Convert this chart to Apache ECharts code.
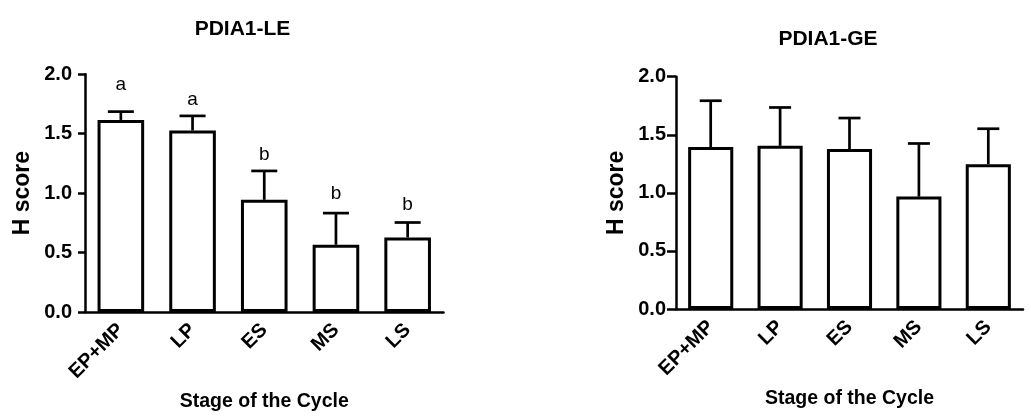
<!DOCTYPE html>
<html>
<head>
<meta charset="utf-8">
<script src="https://cdn.jsdelivr.net/npm/echarts@6/dist/echarts.min.js"></script>
<style>
html,body{margin:0;padding:0;background:#fff;}
#c{width:1031px;height:417px;}
</style>
</head>
<body>
<div id="c"></div>
<script>
const categories = ['EP+MP', 'LP', 'ES', 'MS', 'LS'];
const yTicks = [0, 0.5, 1.0, 1.5, 2.0];
const leMean = [1.616, 1.527, 0.944, 0.566, 0.627];
const leErr = [0.070, 0.123, 0.243, 0.266, 0.126];
const leLetters = ['a', 'a', 'b', 'b', 'b'];
const leLetterY = [1.862, 1.742, 1.280, 0.952, 0.860];
const geMean = [1.394, 1.405, 1.377, 0.968, 1.247];
const geErr = [0.399, 0.330, 0.267, 0.457, 0.305];

const FONT = "'Liberation Sans', Arial, sans-serif";
const chart = echarts.init(document.getElementById('c'));

function xAxisCfg(gi) {
  return {
    type: 'category', gridIndex: gi, data: categories,
    name: 'Stage of the Cycle', nameLocation: 'middle', nameGap: 80,
    nameTextStyle: {fontFamily: FONT, fontWeight: 'bold', fontSize: 19.5, color: '#000'},
    axisLine: {lineStyle: {color: '#000', width: 2.5}},
    axisTick: {alignWithLabel: true, length: 6, lineStyle: {color: '#000', width: 2.5}},
    axisLabel: {rotate: 45, margin: 15, fontFamily: FONT, fontWeight: 'bold', fontSize: 20, color: '#000', interval: 0}
  };
}
function yAxisCfg(gi, gap, margin, tick) {
  return {
    type: 'value', gridIndex: gi, min: yTicks[0], max: yTicks[yTicks.length - 1], interval: 0.5,
    name: 'H score', nameLocation: 'middle', nameGap: gap, nameRotate: 90,
    nameTextStyle: {fontFamily: FONT, fontWeight: 'bold', fontSize: 23, color: '#000'},
    axisLine: {show: true, lineStyle: {color: '#000', width: 2.5}},
    axisTick: {show: true, length: tick, lineStyle: {color: '#000', width: 2.5}},
    splitLine: {show: false},
    axisLabel: {margin: margin, fontFamily: FONT, fontWeight: 'bold', fontSize: 20, color: '#000',
      formatter: v => v.toFixed(1)}
  };
}
function barSeries(gi, vals) {
  return {
    type: 'bar', xAxisIndex: gi, yAxisIndex: gi, data: vals, barWidth: '65%',
    itemStyle: {color: '#fff', borderColor: '#000', borderWidth: 3},
    silent: true, z: 2
  };
}
function errSeries(gi, mean, err, capHalf, letters, letterY) {
  const data = mean.map((m, i) => [i, m, m + err[i]]);
  return {
    type: 'custom', xAxisIndex: gi, yAxisIndex: gi, data: data, z: 3, silent: true,
    renderItem: function (params, api) {
      const i = api.value(0);
      const p0 = api.coord([i, api.value(1)]);
      const p1 = api.coord([i, api.value(2)]);
      const style = {stroke: '#000', lineWidth: 2.7};
      const children = [
        {type: 'line', shape: {x1: p0[0], y1: p0[1], x2: p1[0], y2: p1[1]}, style: style},
        {type: 'line', shape: {x1: p1[0] - capHalf, y1: p1[1], x2: p1[0] + capHalf, y2: p1[1]}, style: style}
      ];
      if (letters) {
        const pl = api.coord([i, letterY[params.dataIndex]]);
        children.push({type: 'text', x: pl[0], y: pl[1] + 4,
          style: {text: letters[params.dataIndex], fill: '#000', font: '19px ' + FONT,
            textAlign: 'center', textVerticalAlign: 'bottom'}});
      }
      return {type: 'group', children: children};
    }
  };
}

chart.setOption({
  animation: false,
  backgroundColor: '#fff',
  graphic: [
    {type: 'text', x: 242.5, y: 29, style: {text: 'PDIA1-LE', font: 'bold 21px ' + FONT, fill: '#000', textAlign: 'center', textVerticalAlign: 'middle'}},
    {type: 'text', x: 828, y: 39, style: {text: 'PDIA1-GE', font: 'bold 21px ' + FONT, fill: '#000', textAlign: 'center', textVerticalAlign: 'middle'}}
  ],
  grid: [
    {left: 85, top: 74.3, width: 358.5, height: 238},
    {left: 676, top: 76.7, width: 347, height: 232.3}
  ],
  xAxis: [xAxisCfg(0), xAxisCfg(1)],
  yAxis: [yAxisCfg(0, 50.5, 13, 7), yAxisCfg(1, 48, 10, 9)],
  series: [
    barSeries(0, leMean),
    errSeries(0, leMean, leErr, 13, leLetters, leLetterY),
    barSeries(1, geMean),
    errSeries(1, geMean, geErr, 11, null, null)
  ]
});
</script>
</body>
</html>
